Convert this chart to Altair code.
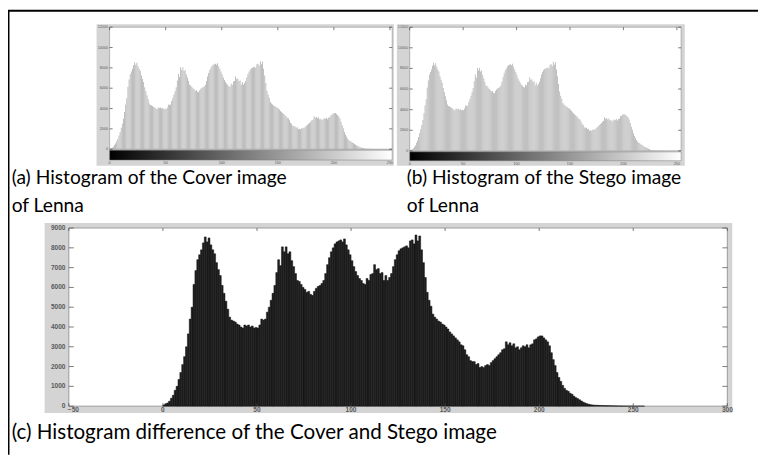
import altair as alt
import pandas as pd

# ---------------- data ----------------
# Lenna grey-level histogram, bins 0..255 (the three panels show the same shape)
lenna_counts = [
    60, 120, 160, 250, 400, 550, 800, 1000, 1350, 1700,
    2100, 2500, 3000, 3650, 4400, 5000, 6150, 6850, 7400, 7650,
    7900, 8250, 8550, 8300, 8500, 8150, 7900, 7700, 7250, 6900,
    6600, 6100, 5700, 5300, 4900, 4500, 4350, 4300, 4250, 4150,
    4100, 4000, 3950, 4100, 4050, 4100, 4000, 4050, 3950, 3980,
    3950, 4100, 4400, 4350, 4400, 4750, 5000, 5350, 5700, 6100,
    6750, 7400, 7100, 8050, 7800, 8050, 7700, 7800, 7350, 7050,
    6700, 6350, 6300, 6150, 6000, 5900, 5750, 5800, 5650, 5600,
    5800, 5950, 6050, 6100, 6200, 6350, 6700, 7150, 7500, 7800,
    8000, 8200, 8300, 8350, 8400, 8300, 8450, 8150, 7900, 7650,
    7350, 7050, 6800, 6600, 6450, 6350, 6200, 6150, 6450, 6350,
    6650, 6700, 7150, 6900, 6950, 6700, 6750, 6350, 6600, 6350,
    6500, 6700, 7050, 7400, 7650, 7850, 7950, 8000, 8050, 8100,
    8000, 8350, 8400, 8200, 8650, 8350, 8600, 7900, 7250, 6500,
    5750, 5350, 5050, 4650, 4500, 4400, 4300, 4250, 4150, 4100,
    4000, 3900, 3750, 3650, 3550, 3450, 3350, 3250, 3100, 3050,
    2850, 2600, 2500, 2300, 2250, 2250, 2100, 2150, 1950, 2000,
    1950, 2050, 2100, 2050, 2200, 2300, 2400, 2500, 2600, 2700,
    2850, 2900, 3250, 3100, 3200, 3050, 3150, 2950, 3000, 2850,
    2950, 3050, 3000, 3100, 2950, 3100, 3150, 3350, 3400, 3500,
    3550, 3550, 3450, 3350, 3250, 3050, 2700, 2350, 2050, 1700,
    1450, 1250, 1050, 900, 800, 750, 650, 600, 500, 430,
    380, 320, 260, 200, 160, 120, 90, 70, 60, 50,
    45, 40, 35, 30, 30, 25, 25, 20, 20, 15,
    15, 10, 10, 8, 6, 5, 4, 3, 2, 2,
    1, 1, 0, 0, 0, 0,
]
grey_levels = list(range(256))

top_x_ticks = [0, 50, 100, 150, 200, 250]
top_y_ticks = [0, 2000, 4000, 6000, 8000, 10000, 12000]
bot_x_ticks = [-50, 0, 50, 100, 150, 200, 250, 300]
bot_y_ticks = [0, 1000, 2000, 3000, 4000, 5000, 6000, 7000, 8000, 9000]

caption_a = ["(a) Histogram of the Cover image", "of Lenna"]
caption_b = ["(b) Histogram of the Stego image", "of Lenna"]
caption_c = ["(c) Histogram difference of the Cover and Stego image"]

# ---------------- layout (canvas pixels) ----------------
W, H = 758, 449
FRAME_GREY = "#d4d4d4"
LABEL_GREY = "#5a5a5a"

hist_df = pd.DataFrame({"level": grey_levels, "count": lenna_counts})
one = alt.Data(values=[{}])


def sc(dom, rng):
    return alt.Scale(domain=dom, range=rng, nice=False, zero=False)


def deco_rect(x0, x1, y0, y1, **kw):
    return alt.Chart(one).mark_rect(**kw).encode(
        x=alt.value(x0), x2=alt.value(x1), y=alt.value(y0), y2=alt.value(y1))


def yticks(vals, dom, rng, x0, x1):
    return alt.Chart(pd.DataFrame({"v": vals})).mark_rule(
        color="#444", strokeWidth=0.7).encode(
        y=alt.Y("v:Q", scale=sc(dom, rng), axis=None),
        x=alt.value(x0), x2=alt.value(x1))


def xticks(vals, dom, rng, y0, y1):
    return alt.Chart(pd.DataFrame({"v": vals})).mark_rule(
        color="#444", strokeWidth=0.7).encode(
        x=alt.X("v:Q", scale=sc(dom, rng), axis=None),
        y=alt.value(y0), y2=alt.value(y1))


def ylabels(vals, dom, rng, x, size, weight="normal"):
    return alt.Chart(pd.DataFrame({"v": vals})).mark_text(
        align="right", baseline="middle", fontSize=size, color=LABEL_GREY,
        font="Liberation Sans", fontWeight=weight).encode(
        y=alt.Y("v:Q", scale=sc(dom, rng), axis=None),
        x=alt.value(x), text=alt.Text("v:Q", format="d"))


def xlabels(vals, dom, rng, y, size, weight="normal", align="center", dx=0):
    return alt.Chart(pd.DataFrame({"v": vals})).mark_text(
        align=align, dx=dx, baseline="middle", fontSize=size, color=LABEL_GREY,
        font="Liberation Sans", fontWeight=weight).encode(
        x=alt.X("v:Q", scale=sc(dom, rng), axis=None),
        y=alt.value(y), text=alt.Text("v:Q", format="d"))


def captions(lines, x, y0, step, size):
    df = pd.DataFrame({"t": lines, "i": list(range(len(lines)))})
    return alt.Chart(df).mark_text(
        font="Lato", fontSize=size, color="black", align="left",
        baseline="alphabetic").transform_calculate(
        yy=f"{y0} + datum.i * {step}").encode(
        text="t:N", x=alt.value(x),
        y=alt.Y("yy:Q", scale=alt.Scale(domain=[0, H], range=[0, H], nice=False, zero=False), axis=None))


def hist_bars(xdom, xr, ydom, yr, width, color, stroke_w=0):
    kw = dict(color=color)
    if stroke_w:
        kw.update(stroke="#111111", strokeWidth=stroke_w)
    return alt.Chart(hist_df).mark_bar(**kw).transform_calculate(
        l2=f"datum.level + {width}", base="0").encode(
        x=alt.X("level:Q", scale=sc(xdom, xr), axis=None),
        x2="l2:Q",
        y=alt.Y("count:Q", scale=sc(ydom, yr), axis=None),
        y2="base:Q",
    )


layers = []

# ---- top panels (a) and (b)
def top_panel(frame, plot, xdom, ydom, cb):
    fx0, fx1, fy0, fy1 = frame
    px0, px1, py0, py1 = plot
    xr = [px0, px1]
    yr = [py1, py0]
    grad = alt.Gradient(gradient="linear",
                        stops=[alt.GradientStop(color="black", offset=0),
                               alt.GradientStop(color="white", offset=1)],
                        x1=0, x2=1, y1=0, y2=0)
    return [
        deco_rect(fx0, fx1, fy0, fy1, color=FRAME_GREY),
        deco_rect(px0, px1, py0, py1, fill="white", stroke="#8a8a8a", strokeWidth=0.6),
        hist_bars(xdom, xr, ydom, yr, 0.7, "#acacac"),
        deco_rect(px0, px1, cb[0], cb[1], color=grad, stroke="#777", strokeWidth=0.5),
        yticks(top_y_ticks, ydom, yr, px0, px0 + 3),
        yticks(top_y_ticks, ydom, yr, px1 - 3, px1),
        xticks(top_x_ticks, xdom, xr, py0, py0 + 3),
        ylabels(top_y_ticks, ydom, yr, px0 - 1.5, 3.8),
        xlabels(top_x_ticks, xdom, xr, cb[1] + 3, 3.8),
    ]


layers += top_panel((89.5, 390, 14, 157), (102.7, 388.3, 17, 140.3), [0, 252], [0, 12000], (141.3, 151.3))
layers += top_panel((393, 684, 14, 157), (406, 680.3, 17, 142), [0, 254], [0, 12000], (143, 152))

# ---- bottom panel (c)
cx0, cx1, cy0, cy1 = 61.5, 727, 220, 400
cxdom, cydom = [-50, 300], [0, 9000]
cxr, cyr = [cx0, cx1], [cy1, cy0]
layers += [
    deco_rect(37, 732, 215, 407, color=FRAME_GREY),
    deco_rect(cx0, cx1, cy0, cy1, fill="white", stroke="#7a7a7a", strokeWidth=0.7),
    hist_bars(cxdom, cxr, cydom, cyr, 1, "#1f1f1f", stroke_w=0.5),
    yticks(bot_y_ticks, cydom, cyr, cx0, cx0 + 5),
    yticks(bot_y_ticks, cydom, cyr, cx1 - 5, cx1),
    xticks(bot_x_ticks, cxdom, cxr, cy0, cy0 + 3),
    xticks(bot_x_ticks, cxdom, cxr, cy1 - 3, cy1),
    ylabels(bot_y_ticks, cydom, cyr, cx0 - 3.5, 6.6, "bold"),
    xlabels(bot_x_ticks[:1], cxdom, cxr, cy1 + 4, 6.6, "bold", align="left", dx=-1),
    xlabels(bot_x_ticks[1:], cxdom, cxr, cy1 + 4, 6.6, "bold"),
]

# ---- captions
layers.append(captions(caption_a, 3.7, 175.3, 28.4, 19.4))
layers.append(captions(caption_b, 403, 175.3, 28.4, 19.4))
layers.append(captions(caption_c, 3.7, 432.7, 28.4, 20.8))

# ---- outer page border
layers.append(alt.Chart(one).mark_rule(color="black", strokeWidth=2).encode(
    x=alt.value(0), x2=alt.value(W), y=alt.value(0.5)))
layers.append(alt.Chart(one).mark_rule(color="black", strokeWidth=2).encode(
    x=alt.value(0.5), y=alt.value(0), y2=alt.value(H)))

chart = alt.layer(*layers).resolve_scale(
    x="independent", y="independent").properties(
    width=W, height=H, padding=0,
    autosize=alt.AutoSizeParams(type="none"),
    background="white",
).configure_view(strokeWidth=0)

chart.save("out.html", embed_options={"renderer": "svg", "actions": False})
